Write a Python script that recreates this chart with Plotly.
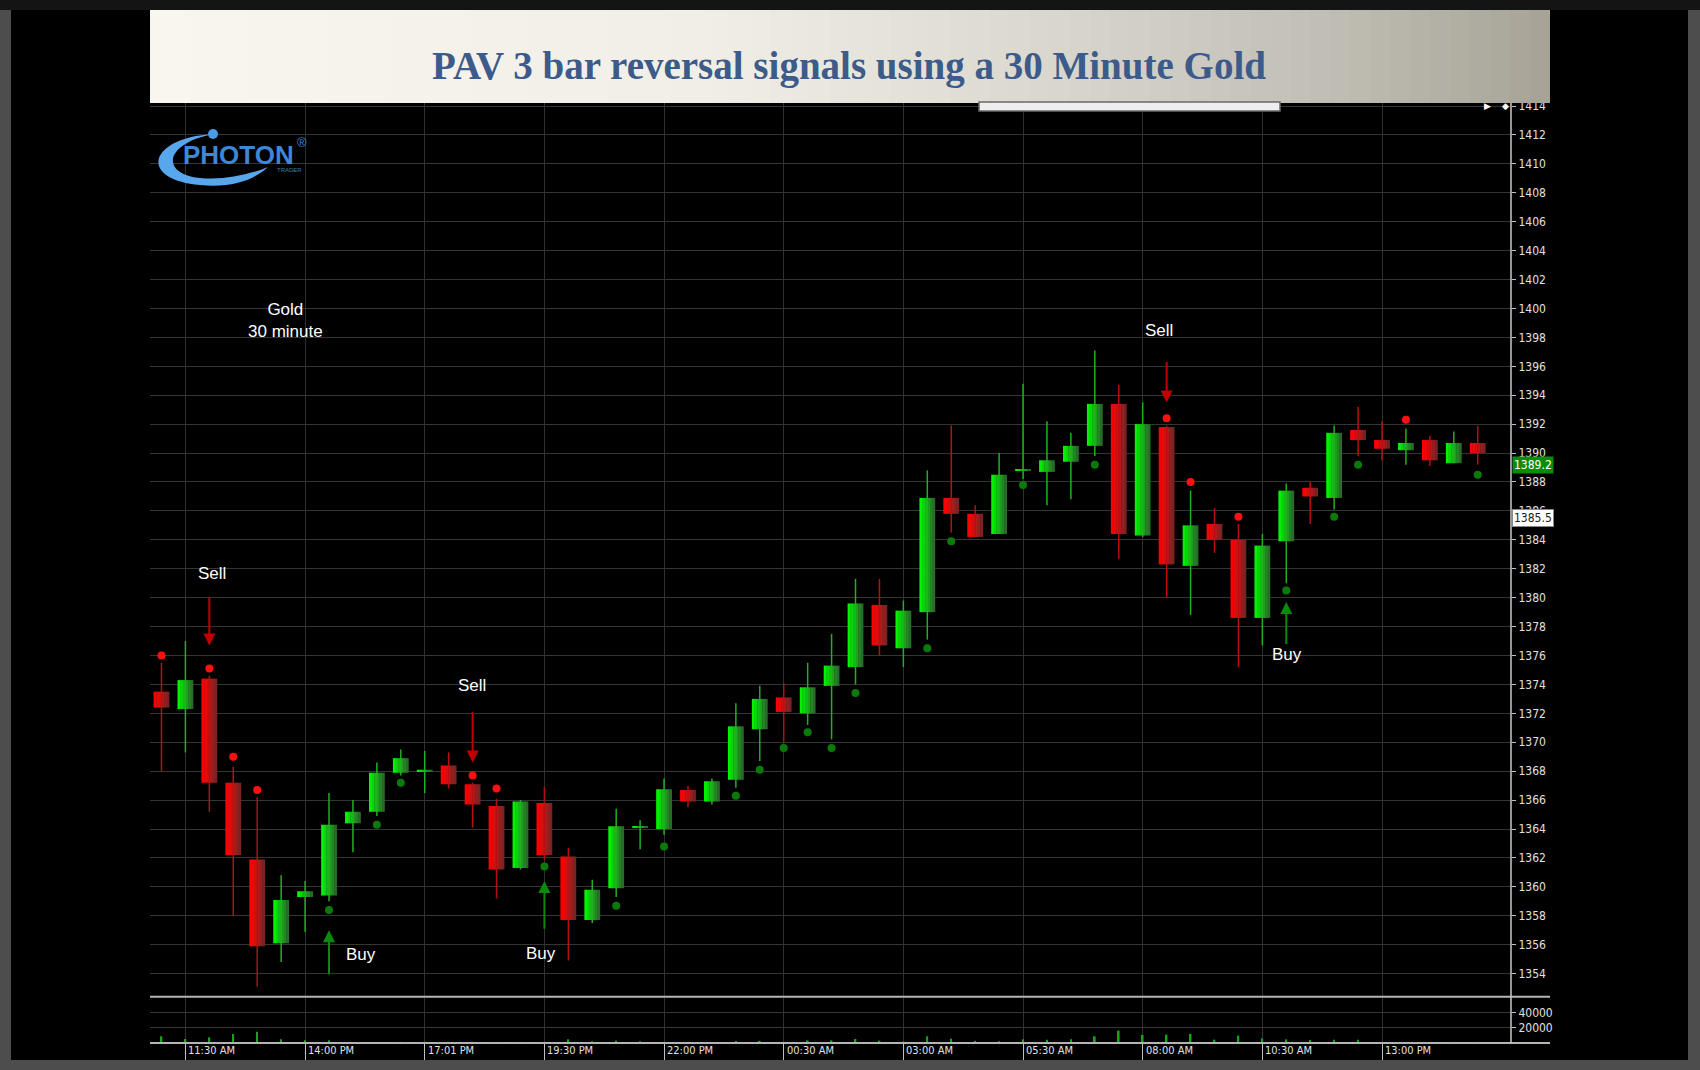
import plotly.graph_objects as go

# 30 minute gold bars, first bar = 11:00 AM
opens = [1373.5, 1372.3, 1374.4, 1367.2, 1361.9, 1356.1, 1359.3, 1359.4, 1364.4, 1365.2,
         1367.9, 1368.0, 1368.4, 1367.1, 1365.6, 1361.3, 1365.8, 1362.1, 1357.7, 1359.9,
         1364.1, 1364.0, 1366.7, 1365.9, 1367.4, 1370.9, 1373.1, 1372.0, 1373.9, 1375.2,
         1379.5, 1376.5, 1379.0, 1386.9, 1385.8, 1384.4, 1388.8, 1388.7, 1389.4, 1390.5,
         1393.4, 1384.3, 1391.8, 1382.2, 1385.1, 1384.0, 1378.6, 1383.9, 1387.6, 1386.9,
         1391.6, 1390.9, 1390.2, 1390.9, 1389.3, 1390.7]
highs = [1375.5, 1377.0, 1374.6, 1368.3, 1366.2, 1360.8, 1360.4, 1366.5, 1366.0, 1368.6,
         1369.5, 1369.4, 1369.3, 1367.2, 1366.1, 1366.0, 1366.9, 1362.7, 1360.5, 1365.4,
         1364.6, 1367.5, 1367.0, 1367.5, 1372.7, 1373.9, 1374.1, 1375.5, 1377.5, 1381.3,
         1381.3, 1379.8, 1388.8, 1391.9, 1386.4, 1390.0, 1394.8, 1392.2, 1391.4, 1397.1,
         1394.7, 1393.5, 1391.9, 1387.4, 1386.2, 1385.1, 1384.4, 1387.9, 1388.0, 1391.9,
         1393.2, 1392.2, 1391.7, 1391.2, 1391.5, 1391.9]
lows = [1368.0, 1369.3, 1365.2, 1358.0, 1353.1, 1354.8, 1356.9, 1359.0, 1362.4, 1364.9,
        1367.7, 1366.5, 1366.8, 1364.1, 1359.2, 1361.2, 1361.9, 1354.9, 1357.5, 1359.3,
        1362.6, 1363.6, 1365.5, 1365.7, 1366.85, 1368.7, 1370.0, 1371.2, 1370.2, 1374.0,
        1376.0, 1375.2, 1377.1, 1384.5, 1384.2, 1384.4, 1388.2, 1386.4, 1386.8, 1389.8,
        1382.7, 1384.2, 1380.0, 1378.8, 1383.1, 1375.2, 1376.7, 1381.0, 1385.1, 1386.1,
        1389.8, 1389.5, 1389.2, 1389.1, 1389.3, 1389.2]
closes = [1372.4, 1374.3, 1367.2, 1362.2, 1355.9, 1359.1, 1359.7, 1364.3, 1365.2, 1367.9,
          1368.9, 1368.1, 1367.1, 1365.7, 1361.2, 1365.9, 1362.2, 1357.7, 1359.8, 1364.2,
          1364.2, 1366.75, 1365.9, 1367.3, 1371.1, 1373.0, 1372.1, 1373.8, 1375.3, 1379.6,
          1376.7, 1379.1, 1386.9, 1385.8, 1384.2, 1388.5, 1388.9, 1389.5, 1390.5, 1393.4,
          1384.4, 1392.0, 1382.3, 1385.0, 1384.0, 1378.6, 1383.6, 1387.4, 1387.0, 1391.4,
          1390.9, 1390.3, 1390.7, 1389.5, 1390.7, 1390.0]
volume = [8900, 5300, 7500, 12000, 15000, 4900, 3500, 3500, 1300, 1300,
          1300, 900, 1300, 1300, 1300, 1300, 1300, 4900, 2200, 3100,
          2200, 900, 1300, 1300, 2700, 2700, 1300, 3500, 3500, 5300,
          3100, 1800, 8900, 5800, 2700, 2200, 4900, 4400, 4900, 8900,
          16400, 10700, 11100, 12000, 4400, 9800, 6200, 4900, 4000, 4400,
          4400, 400, 900, 900, 900, 900]

tick_idx = [1, 6, 11, 16, 21, 26, 31, 36, 41, 46, 51]
tick_text = ["11:30 AM", "14:00 PM", "17:01 PM", "19:30 PM", "22:00 PM", "00:30 AM",
             "03:00 AM", "05:30 AM", "08:00 AM", "10:30 AM", "13:00 PM"]

red_dot_idx = [0, 2, 3, 4, 13, 14, 42, 43, 45, 52]
red_dot_px = [1376.0, 1375.1, 1369.0, 1366.7, 1367.7, 1366.8, 1392.4, 1388.0, 1385.6, 1392.3]
green_dot_idx = [7, 9, 10, 16, 19, 21, 24, 25, 26, 27, 28, 29, 32, 33, 36, 39, 47, 49, 50, 55]
green_dot_px = [1358.4, 1364.3, 1367.2, 1361.4, 1358.7, 1362.8, 1366.3, 1368.1, 1369.6, 1370.7,
                1369.6, 1373.4, 1376.5, 1383.9, 1387.8, 1389.2, 1380.5, 1385.6, 1389.2, 1388.5]

# signals: arrow at bar, tail / head price, label position
sig_text = ["Sell", "Buy", "Sell", "Buy", "Sell", "Buy"]
sig_idx = [2, 7, 13, 16, 42, 47]
sig_tail = [1380.1, 1353.85, 1372.2, 1357.0, 1396.4, 1376.7]
sig_head = [1376.7, 1357.0, 1368.6, 1360.4, 1393.5, 1379.7]
sig_lbl_x = [2.13, 8.34, 12.96, 15.86, 41.7, 47.03]
sig_lbl_y = [1381.7, 1355.3, 1373.9, 1355.4, 1398.5, 1376.05]

last_price = 1389.2
cursor_price = 1385.5

W, H = 1700, 1070
L, R, T, B = 150, 1511, 103, 1043


def px(xo):
    return (xo - L) / (R - L)


def py(yo):
    return (B - yo) / (B - T)


def pt(xo, yo):
    return "%.5f,%.5f" % (px(xo), py(yo))


def hexc(rgb):
    return "#%02x%02x%02x" % tuple(int(round(v)) for v in rgb)


def grad(t, stops):
    for (t0, c0), (t1, c1) in zip(stops, stops[1:]):
        if t <= t1:
            f = (t - t0) / (t1 - t0)
            return hexc([a + (b - a) * f for a, b in zip(c0, c1)])
    return hexc(stops[-1][1])


n = len(opens)
xs = list(range(n))
up = [c >= o for o, c in zip(opens, closes)]

fig = go.Figure()

# wicks
for flag, col in [(True, "#22b022"), (False, "#b81010")]:
    wx, wy = [], []
    for i in xs:
        if up[i] == flag:
            wx += [i, i, None]
            wy += [lows[i], highs[i], None]
    fig.add_trace(go.Scatter(x=wx, y=wy, mode="lines", line=dict(color=col, width=1.5),
                             hoverinfo="skip", showlegend=False))

# bodies drawn as vertical slices to get the left-bright / right-dark shading
green_shades = ["#00f400", "#08d808", "#12bc12", "#1ca01c", "#248424", "#2a6c2a"]
red_shades = ["#ff0000", "#ea0808", "#ce1212", "#b01a1a", "#922020", "#782424"]
body_w = 0.66
k = len(green_shades)
sw = body_w / k
for j in range(k):
    fig.add_trace(go.Bar(
        x=xs, y=[abs(c - o) for o, c in zip(opens, closes)],
        base=[min(o, c) for o, c in zip(opens, closes)],
        width=sw + (0.015 if j < k - 1 else 0), offset=-body_w / 2 + j * sw,
        marker=dict(color=[green_shades[j] if u else red_shades[j] for u in up], line=dict(width=0)),
        hoverinfo="skip", showlegend=False))

# signal dots
fig.add_trace(go.Scatter(x=red_dot_idx, y=red_dot_px, mode="markers",
                         marker=dict(color="#ff1010", size=8), hoverinfo="skip", showlegend=False))
fig.add_trace(go.Scatter(x=green_dot_idx, y=green_dot_px, mode="markers",
                         marker=dict(color="#0b7a0b", size=8), hoverinfo="skip", showlegend=False))

# volume
fig.add_trace(go.Bar(x=xs, y=volume, width=0.07, marker=dict(color="#1aa01a", line=dict(width=0)),
                     yaxis="y2", hoverinfo="skip", showlegend=False))

shapes = []
# dark frame
shapes.append(dict(type="rect", xref="paper", yref="paper", x0=px(11), x1=px(1688),
                   y0=py(1060), y1=py(10), fillcolor="#000000", line=dict(width=0), layer="below"))
shapes.append(dict(type="rect", xref="paper", yref="paper", x0=px(0), x1=px(W),
                   y0=py(10), y1=py(0), fillcolor="#141414", line=dict(width=0), layer="below"))
# title banner gradient
stops = [(0, (248, 246, 239)), (0.4, (240, 238, 230)), (0.65, (217, 215, 205)),
         (0.85, (191, 189, 179)), (1.0, (166, 163, 150))]
nb = 70
bx0, bx1 = 150, 1550
for j in range(nb):
    a = bx0 + (bx1 - bx0) * j / nb
    b = bx0 + (bx1 - bx0) * (j + 1) / nb + 1
    shapes.append(dict(type="rect", xref="paper", yref="paper", x0=px(a), x1=px(min(b, bx1)),
                       y0=py(103), y1=py(10), fillcolor=grad((j + 0.5) / nb, stops),
                       line=dict(width=0), layer="above"))
# scroll thumb under the banner
shapes.append(dict(type="rect", xref="paper", yref="paper", x0=px(979), x1=px(1280),
                   y0=py(111), y1=py(102), fillcolor="#eeeeee", line=dict(color="#6a6a6a", width=1.5),
                   layer="above"))
# panel separators and price axis line
for yy in [996.8, 1043]:
    shapes.append(dict(type="line", xref="paper", yref="paper", x0=0, x1=px(1550),
                       y0=py(yy), y1=py(yy), line=dict(color="#b4b4b4", width=2)))
shapes.append(dict(type="line", xref="paper", yref="paper", x0=1, x1=1, y0=0, y1=1,
                   line=dict(color="#c8c8c8", width=1.5)))
# logo swoosh
swoosh = ("M " + pt(214, 134) + " C " + pt(150, 137) + " " + pt(136, 179) + " " + pt(200, 185) +
          " C " + pt(232, 188) + " " + pt(254, 180) + " " + pt(268, 167) +
          " C " + pt(246, 176) + " " + pt(222, 180) + " " + pt(200, 178) +
          " C " + pt(160, 174) + " " + pt(164, 143) + " " + pt(214, 134) + " Z")
shapes.append(dict(type="path", xref="paper", yref="paper", path=swoosh,
                   fillcolor="#58a6ec", line=dict(width=0)))
shapes.append(dict(type="circle", xref="paper", yref="paper", x0=px(208), x1=px(218),
                   y0=py(139), y1=py(129), fillcolor="#4a9ae6", line=dict(width=0)))

label_font = dict(family="Liberation Sans, Arial, sans-serif", size=17, color="#ffffff")
axis_font = dict(family="Liberation Sans Narrow, DejaVu Sans Condensed, Arial Narrow, sans-serif",
                 size=12, color="#e0e0e0")


def note(xo, yo, text, font, **kw):
    # text placed by pixel position, centred on that point
    d = dict(xref="paper", yref="paper", x=px(xo), y=py(yo), text=text, showarrow=False,
             xanchor="center", yanchor="middle", font=font)
    d.update(kw)
    return d


ann = []
ann.append(note(849, 66, "<b>PAV 3 bar reversal signals using a 30 Minute Gold</b>",
                dict(family="Liberation Serif, Times New Roman, serif", size=39, color="#3c5b8b")))
ann.append(note(238, 155, "<b>PHOTON</b>",
                dict(family="Liberation Sans, Arial, sans-serif", size=26, color="#3d86d8")))
ann.append(note(302, 142, "®", dict(family="Liberation Sans, Arial, sans-serif", size=13, color="#3d86d8")))
ann.append(note(289, 170, "TRADER", dict(family="Liberation Sans, Arial, sans-serif", size=6, color="#3b7ac0")))
ann.append(note(1487, 106, "▶", dict(family="DejaVu Sans", size=9, color="#ffffff")))
ann.append(note(1505, 106, "◆", dict(family="DejaVu Sans", size=9, color="#ffffff")))
ann.append(dict(x=5.17, y=1399.15, showarrow=False, text="Gold<br>30 minute", align="center",
                xanchor="center", yanchor="middle", font=label_font))
for t, i, tl, hd, lx, ly in zip(sig_text, sig_idx, sig_tail, sig_head, sig_lbl_x, sig_lbl_y):
    col = "#c00000" if t == "Sell" else "#0b8a0b"
    ann.append(dict(x=i, y=hd, ax=i, ay=tl, axref="x", ayref="y", text="", showarrow=True,
                    arrowhead=2, arrowsize=1.2, arrowwidth=2, arrowcolor=col, standoff=0))
    ann.append(dict(x=lx, y=ly, text=t, showarrow=False, xanchor="center", yanchor="middle",
                    font=label_font))
for i, t in zip(tick_idx, tick_text):
    ann.append(dict(x=i, xref="x", y=py(1050.5), yref="paper", text=t, showarrow=False,
                    xanchor="left", yanchor="middle", xshift=1, font=dict(axis_font, size=11)))
ann.append(dict(xref="paper", x=px(1512), xanchor="left", yref="y", y=last_price, yanchor="middle",
                text="%.1f" % last_price, showarrow=False, bgcolor="#0c8a0c", borderpad=1,
                font=dict(axis_font, size=12, color="#ffffff")))
ann.append(dict(xref="paper", x=px(1512), xanchor="left", yref="y", y=cursor_price, yanchor="middle",
                text="%.1f" % cursor_price, showarrow=False, bgcolor="#ffffff", borderpad=1,
                bordercolor="#888888", font=dict(axis_font, size=12, color="#202020")))

fig.update_layout(
    width=W, height=H,
    margin=dict(l=L, r=W - R, t=T, b=H - B, pad=0),
    paper_bgcolor="#4d4d4d", plot_bgcolor="#000000",
    barmode="overlay", showlegend=False,
    shapes=shapes, annotations=ann,
    xaxis=dict(range=[-0.48, 56.39], tickvals=tick_idx, showticklabels=False,
               ticks="outside", ticklen=16, tickcolor="#c0c0c0", tickwidth=1,
               showgrid=True, gridcolor="#303030", gridwidth=1, zeroline=False,
               showline=False, anchor="y2", fixedrange=True),
    yaxis=dict(domain=[0.0495, 1], range=[1352.42, 1414.21], side="right", anchor="x",
               tick0=1354, dtick=2, ticks="outside", ticklen=4, tickcolor="#c0c0c0",
               tickfont=axis_font, showgrid=True, gridcolor="#353535", gridwidth=1,
               zeroline=False, showline=False),
    yaxis2=dict(domain=[0, 0.048], range=[0, 60100], side="right", anchor="x",
                tickvals=[20000, 40000], ticktext=["20000", "40000"], ticks="outside", ticklen=4,
                tickcolor="#c0c0c0", tickfont=axis_font, showgrid=True, gridcolor="#353535",
                zeroline=False, showline=False),
)

# page has a default 8px body margin; drop it so the figure fills the window
fig.write_html("out.html", config={"displayModeBar": False},
               post_script="document.body.style.margin='0';"
                           "document.body.style.background='#4d4d4d';")
